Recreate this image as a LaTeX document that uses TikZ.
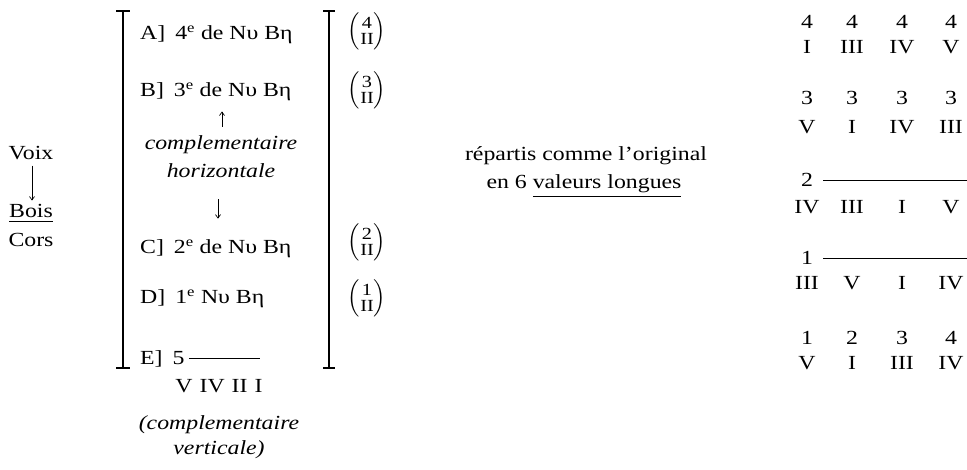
\documentclass[tikz,border=0pt]{standalone}
\usepackage{amsmath}
\usepackage{fontspec}
\setmainfont[FakeStretch=1.19]{Liberation Serif}
\usetikzlibrary{arrows.meta}
\newcommand{\fr}[1]{\delimiterfactor=1000 \delimitershortfall=-4pt
  $\left(\vcenter{\fontsize{17}{16.5}\selectfont\halign{\hfil##\hfil\cr #1\cr II\cr}}\right)$}
\begin{document}
\begin{tikzpicture}[x=1pt,y=-1pt,
  txt/.style={inner sep=0pt,font=\fontsize{20}{24}\selectfont},
  row/.style={txt,anchor=base west},
  ctr/.style={txt,anchor=base},
  itl/.style={txt,anchor=base,font=\fontsize{20}{24}\selectfont\itshape},
  brk/.style={line width=2pt},
  arr/.style={line width=0.7pt,-{Straight Barb[length=3.5pt,width=5pt]}},
  rule/.style={line width=1pt}]
\useasboundingbox (0,0) rectangle (967,470);
% left column
\node[ctr] (voix) at (31,160) {Voix};
\node[ctr] (bois) at (31,218) {\underline{Bois}};
\node[ctr] (cors) at (31,247) {Cors};
\draw[arr,shorten <=5pt,shorten >=4pt] ([xshift=1pt]voix.south) -- ([xshift=1pt]bois.north);
% brackets
\draw[brk] (116,11) -- (130,11) (123,11) -- (123,368) (116,368) -- (130,368);
\draw[brk] (323,11) -- (335,11) (329,11) -- (329,368) (323,368) -- (335,368);
% rows
\node[row] (A) at (140,40) {A]\hspace{0.5em}4\textsuperscript{e} de N\char"03C5{} B\char"03B7};
\node[row] (B) at (140,97) {B]\hspace{0.5em}3\textsuperscript{e} de N\char"03C5{} B\char"03B7};
\node[itl] (ch1) at (221,150) {complementaire};
\node[itl] (ch2) at (221,178) {horizontale};
\draw[arr,shorten <=9pt,shorten >=10pt] ([xshift=1pt]ch1.north) -- ([xshift=1pt]ch1.north |- B.south);
\node[row] (C) at (140,254) {C]\hspace{0.5em}2\textsuperscript{e} de N\char"03C5{} B\char"03B7};
\draw[arr,shorten <=21pt,shorten >=21pt] ([xshift=-3pt]ch2.south) -- ([xshift=-3pt]ch2.south |- C.north);
\node[row] (D) at (140,304) {D]\hspace{0.5em}1\textsuperscript{e} N\char"03C5{} B\char"03B7};
\node[row] (E) at (140,365) {E]\hspace{0.5em}5};
\coordinate (Eend) at (260,359);
\draw[rule] ([xshift=4pt]E.east |- Eend) -- (Eend);
\node[ctr] (Erom) at (219,392) {V\hspace{0.35em}IV\hspace{0.35em}II\hspace{0.35em}I};
\node[itl] (cv1) at (219,429) {(complementaire};
\node[itl] (cv2) at (219,454) {verticale)};
% fractions
\node[txt] (f4) at (367,31) {\fr{4}};
\node[txt] (f3) at (367,90) {\fr{3}};
\node[txt] (f2) at (367,242) {\fr{2}};
\node[txt] (f1) at (367,298) {\fr{1}};
% middle
\node[ctr] (m1) at (586,161) {répartis comme l’original};
\node[ctr] (m2) at (584,189) {en 6 \underline{valeurs longues}};
% grid
\foreach \n/\r [count=\i] in {4/I,4/III,4/IV,4/V}{
  \pgfmathsetmacro\xx{{807,852,902,951}[\i-1]}
  \node[ctr] (g1n\i) at (\xx,29) {\n};
  \node[ctr] (g1r\i) at (\xx,54) {\r};}
\foreach \n/\r [count=\i] in {3/V,3/I,3/IV,3/III}{
  \pgfmathsetmacro\xx{{807,852,902,951}[\i-1]}
  \node[ctr] (g2n\i) at (\xx,105) {\n};
  \node[ctr] (g2r\i) at (\xx,134) {\r};}
\node[ctr] (g3n) at (807,187) {2};
\coordinate (g3e) at (967,181);
\draw[rule] ([xshift=10pt]g3n.east |- g3e) -- (g3e);
\foreach \r [count=\i] in {IV,III,I,V}{
  \pgfmathsetmacro\xx{{807,852,902,951}[\i-1]}
  \node[ctr] (g3r\i) at (\xx,214) {\r};}
\node[ctr] (g4n) at (807,265) {1};
\coordinate (g4e) at (967,259);
\draw[rule] ([xshift=10pt]g4n.east |- g4e) -- (g4e);
\foreach \r [count=\i] in {III,V,I,IV}{
  \pgfmathsetmacro\xx{{807,852,902,951}[\i-1]}
  \node[ctr] (g4r\i) at (\xx,290) {\r};}
\foreach \n/\r [count=\i] in {1/V,2/I,3/III,4/IV}{
  \pgfmathsetmacro\xx{{807,852,902,951}[\i-1]}
  \node[ctr] (g5n\i) at (\xx,345) {\n};
  \node[ctr] (g5r\i) at (\xx,370) {\r};}
\end{tikzpicture}
\end{document}
